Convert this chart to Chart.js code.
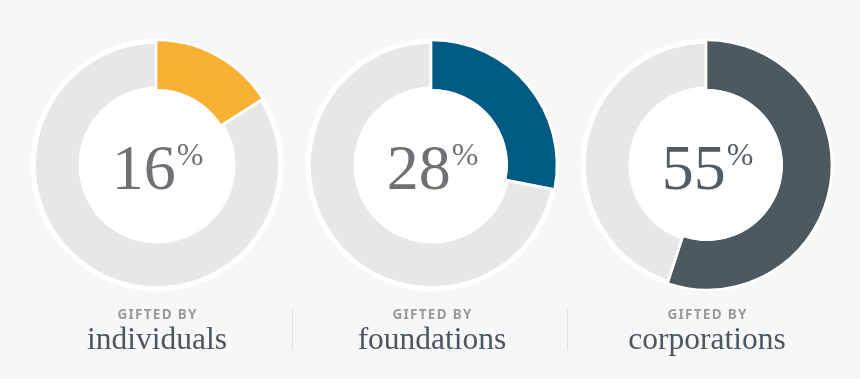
<!DOCTYPE html>
<html><head><meta charset="utf-8">
<script src="https://cdn.jsdelivr.net/npm/chart.js@4.4.1/dist/chart.umd.min.js"></script>
<style>
html,body{margin:0;padding:0;background:#f7f7f7;}
#wrap{position:relative;width:860px;height:379px;overflow:hidden;background:#f7f7f7;}
.cell{position:absolute;top:0;width:275px;height:379px;}
.sep{position:absolute;top:307px;width:1px;height:43px;background:#e3e3e3;}
</style></head><body>
<div id="wrap">
  <div class="cell" style="left:20px"><canvas id="c0" width="275" height="379"></canvas></div>
  <div class="cell" style="left:295px"><canvas id="c1" width="275" height="379"></canvas></div>
  <div class="cell" style="left:570px"><canvas id="c2" width="275" height="379"></canvas></div>
  <div class="sep" style="left:292px"></div>
  <div class="sep" style="left:567px"></div>
</div>
<script>
// ---- data ----
const categories = ['individuals', 'foundations', 'corporations'];
const shares = [16, 28, 55];
const remainders = [84, 72, 45];
const captionPrefix = 'GIFTED BY';

// ---- styles ----
const segmentColors = ['#f8b133', '#005b84', '#4d5961'];
const numberColors = ['#6f7174', '#6f7174', '#525d66'];
const restColor = '#e7e7e7';

function makePlugin(i) {
  return {
    id: 'deco' + i,
    beforeDatasetsDraw(chart) {
      const arc = chart.getDatasetMeta(0).data[0];
      const ctx = chart.ctx;
      ctx.save();
      ctx.fillStyle = '#ffffff';
      ctx.beginPath();
      ctx.arc(arc.x, arc.y, arc.outerRadius + 2.5, 0, Math.PI * 2);
      ctx.fill();
      ctx.restore();
    },
    afterDatasetsDraw(chart) {
      const arc = chart.getDatasetMeta(0).data[0];
      const ctx = chart.ctx;
      const cx = arc.x;
      ctx.save();
      ctx.fillStyle = '#ffffff';
      ctx.beginPath();
      ctx.arc(cx, arc.y, arc.innerRadius, 0, Math.PI * 2);
      ctx.fill();
      // center number
      const num = String(shares[i]);
      ctx.font = '64px "Liberation Serif"';
      const w1 = ctx.measureText(num).width;
      ctx.font = '32px "Liberation Serif"';
      const w2 = ctx.measureText('%').width;
      const x0 = cx - (w1 + w2) / 2;
      ctx.fillStyle = numberColors[i];
      ctx.textAlign = 'left';
      ctx.textBaseline = 'alphabetic';
      ctx.font = '64px "Liberation Serif"';
      ctx.fillText(num, x0, arc.y + 24);
      ctx.font = '32px "Liberation Serif"';
      ctx.fillText('%', x0 + w1 + 1, arc.y + 0);
      // captions
      ctx.textAlign = 'center';
      ctx.fillStyle = '#999a9c';
      ctx.font = 'bold 13.5px "Noto Sans"';
      ctx.letterSpacing = '1.3px';
      ctx.fillText(captionPrefix, cx + 0.6, 318.5);
      ctx.letterSpacing = '0px';
      ctx.fillStyle = '#4a5661';
      ctx.font = '31.5px "Liberation Serif"';
      ctx.fillText(categories[i], cx, 349);
      ctx.restore();
    }
  };
}

for (let i = 0; i < categories.length; i++) {
  new Chart(document.getElementById('c' + i), {
    type: 'doughnut',
    data: {
      labels: [categories[i], 'other'],
      datasets: [{
        data: [shares[i], remainders[i]],
        backgroundColor: [segmentColors[i], restColor],
        borderColor: '#ffffff',
        borderWidth: [0, 2.5],
        borderAlign: 'inner',
        hoverBorderWidth: 0,
        hoverOffset: 0
      }]
    },
    options: {
      responsive: false,
      animation: false,
      events: [],
      cutout: '61%',
      layout: { padding: { left: 13, right: 14, top: 41, bottom: 90 } },
      plugins: { legend: { display: false }, tooltip: { enabled: false } }
    },
    plugins: [makePlugin(i)]
  });
}
</script>
</body></html>
